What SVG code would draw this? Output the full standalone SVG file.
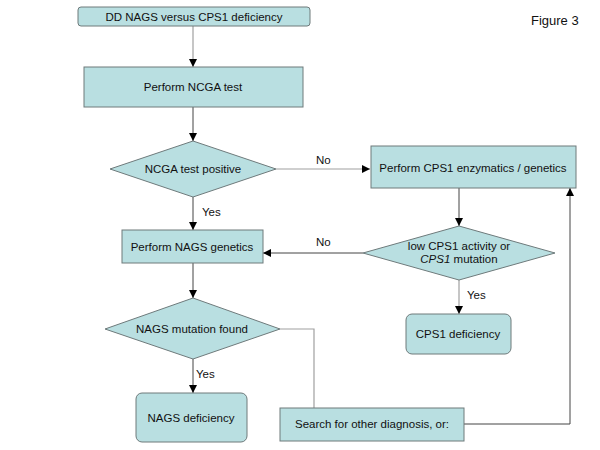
<svg xmlns="http://www.w3.org/2000/svg" width="600" height="450" viewBox="0 0 600 450">
<style>
.n{fill:#b9dfe1;stroke:#6e7a7b;stroke-width:1}
.t{font-family:"Liberation Sans",Arial,sans-serif;font-size:11.5px;fill:#111;text-anchor:middle}
.l{font-family:"Liberation Sans",Arial,sans-serif;font-size:11.5px;fill:#111}
.c{fill:none;stroke:#444;stroke-width:1}
.g{fill:none;stroke:#a0a0a0;stroke-width:1.2}
</style>
<defs>
<marker id="a" viewBox="0 0 8 8" refX="8" refY="4" markerWidth="8" markerHeight="8" markerUnits="userSpaceOnUse" orient="auto">
<path d="M0,0 L8,4 L0,8 Z" fill="#000"/>
</marker>
</defs>
<rect width="600" height="450" fill="#fff"/>
<text class="l" x="531" y="25" style="font-size:13px">Figure 3</text>
<g id="connectors">
<path class="g" d="M193,26 V67" marker-end="url(#a)"/>
<path class="c" d="M193,107 V141" marker-end="url(#a)"/>
<path class="g" d="M276,169 H370" marker-end="url(#a)"/>
<path class="c" d="M193,197 V230" marker-end="url(#a)"/>
<path class="c" d="M459,188 V226" marker-end="url(#a)"/>
<path class="c" d="M363,253 H263" marker-end="url(#a)"/>
<path class="g" d="M459,280 V314" marker-end="url(#a)"/>
<path class="c" d="M193,263 V298" marker-end="url(#a)"/>
<path class="c" d="M193,359 V393" marker-end="url(#a)"/>
<path class="g" d="M280,329 H314 V408"/>
<path class="c" d="M464,424 H570 V188" marker-end="url(#a)"/>
<text class="l" x="316" y="164">No</text>
<text class="l" x="316" y="246">No</text>
<text class="l" x="202" y="216">Yes</text>
<text class="l" x="467" y="299">Yes</text>
<text class="l" x="196" y="378">Yes</text>
</g>
<g id="start"><rect class="n" x="78" y="7" width="232" height="19" rx="3"/><text class="t" x="194" y="21">DD NAGS versus CPS1 deficiency</text></g>
<g id="ncga"><rect class="n" x="84" y="67" width="219" height="40"/><text class="t" x="193" y="91">Perform NCGA test</text></g>
<g id="ncgapos"><path class="n" d="M193,141 L276,169 L193,197 L110,169 Z"/><text class="t" x="193" y="173">NCGA test positive</text></g>
<g id="cps1enz"><rect class="n" x="371" y="146" width="205" height="42"/><text class="t" x="473" y="172">Perform CPS1 enzymatics / genetics</text></g>
<g id="lowcps1"><path class="n" d="M459,226 L555,253 L459,280 L363,253 Z"/><text class="t" x="459" y="250">low CPS1 activity or</text><text class="t" x="459" y="263"><tspan font-style="italic">CPS1</tspan> mutation</text></g>
<g id="nagsgen"><rect class="n" x="122" y="230" width="141" height="33"/><text class="t" x="192" y="251">Perform NAGS genetics</text></g>
<g id="nagsmut"><path class="n" d="M193,298 L280,329 L193,359 L105,329 Z"/><text class="t" x="192" y="333">NAGS mutation found</text></g>
<g id="cps1def"><rect class="n" x="406" y="314" width="105" height="40" rx="6"/><text class="t" x="458" y="338">CPS1 deficiency</text></g>
<g id="nagsdef"><rect class="n" x="136" y="393" width="111" height="49" rx="6"/><text class="t" x="191" y="422">NAGS deficiency</text></g>
<g id="search"><rect class="n" x="280" y="408" width="184" height="33"/><text class="t" x="372" y="428">Search for other diagnosis, or:</text></g>
</svg>
